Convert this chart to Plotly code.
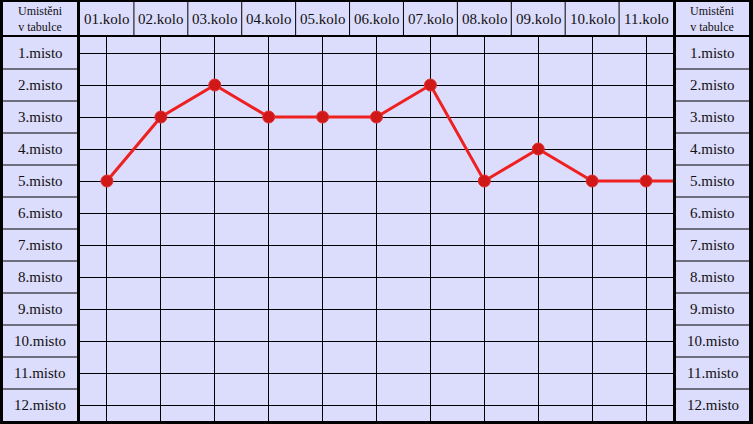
import plotly.graph_objects as go

W, H = 753, 424

rounds = ["01.kolo", "02.kolo", "03.kolo", "04.kolo", "05.kolo", "06.kolo",
          "07.kolo", "08.kolo", "09.kolo", "10.kolo", "11.kolo"]
round_no = [1, 2, 3, 4, 5, 6, 7, 8, 9, 10, 11, 12]
positions = [5, 3, 2, 3, 3, 3, 2, 5, 4, 5, 5, 5]
place_labels = [f"{i}.misto" for i in range(1, 13)]
corner_label = "Umistěni<br>v tabulce"

BG = "#dcdcfc"
FONT = "Liberation Serif"

# pixel geometry
PL, PR, PT, PB = 80, 673, 37, 421

def px(x):
    return x / W

def py(y):
    return 1 - y / H

fig = go.Figure()
fig.add_trace(go.Scatter(
    x=round_no, y=positions, mode="lines+markers",
    line=dict(color="#ee2020", width=3),
    marker=dict(color="#d01818", size=12, line=dict(color="#e03030", width=1)),
    showlegend=False, hoverinfo="skip",
))

shapes = []
for k in range(1, 12):
    for x0, x1 in ((px(3), px(77)), (px(676), px(749))):
        shapes.append(dict(type="line", xref="paper", yref="y", x0=x0, x1=x1,
                           y0=k + 0.5, y1=k + 0.5, line=dict(color="black", width=1)))
for i in range(1, 11):
    shapes.append(dict(type="line", xref="x", yref="paper", x0=i + 0.5, x1=i + 0.5,
                       y0=py(35), y1=py(2), line=dict(color="black", width=1)))

def bar(x0, y0, x1, y1):
    shapes.append(dict(type="rect", xref="paper", yref="paper", x0=px(x0), x1=px(x1),
                       y0=py(y1), y1=py(y0), fillcolor="black", line=dict(width=0),
                       layer="above"))
bar(0, 0, 3, H)
bar(749, 0, W, H)
bar(0, 0, W, 2)
bar(0, 421, W, H)
bar(77, 0, 80, H)
bar(673, 0, 676, H)
bar(0, 35, W, 37)

ann = []
for k, lab in enumerate(place_labels, start=1):
    for xc in (40, 712.5):
        ann.append(dict(xref="paper", yref="y", x=px(xc), y=k, text=lab, showarrow=False,
                        font=dict(family=FONT, size=15, color="#111"),
                        xanchor="center", yanchor="middle"))
for i, lab in enumerate(rounds, start=1):
    ann.append(dict(xref="x", yref="paper", x=i, y=py(18.5), text=lab, showarrow=False,
                    font=dict(family=FONT, size=15, color="#111"),
                    xanchor="center", yanchor="middle"))
for xc in (40, 712.5):
    ann.append(dict(xref="paper", yref="paper", x=px(xc), y=py(18.5), text=corner_label,
                    showarrow=False, font=dict(family=FONT, size=12, color="#111"),
                    xanchor="center", yanchor="middle"))

fig.update_layout(
    width=W, height=H, margin=dict(l=0, r=0, t=0, b=0, pad=0),
    paper_bgcolor=BG, plot_bgcolor=BG,
    shapes=shapes, annotations=ann,
    xaxis=dict(domain=[px(PL), px(PR)], range=[0.5, 11.5], tick0=1, dtick=1,
               showgrid=True, gridcolor="black", gridwidth=1, zeroline=False,
               showticklabels=False, ticks="", fixedrange=True),
    yaxis=dict(domain=[py(PB), py(PT)], range=[12.5, 0.5], tick0=1, dtick=1,
               showgrid=True, gridcolor="black", gridwidth=1, zeroline=False,
               showticklabels=False, ticks="", fixedrange=True),
)

fig.write_html("out.html", config=dict(displayModeBar=False),
               post_script="document.body.style.margin='0';document.body.style.overflow='hidden';")
